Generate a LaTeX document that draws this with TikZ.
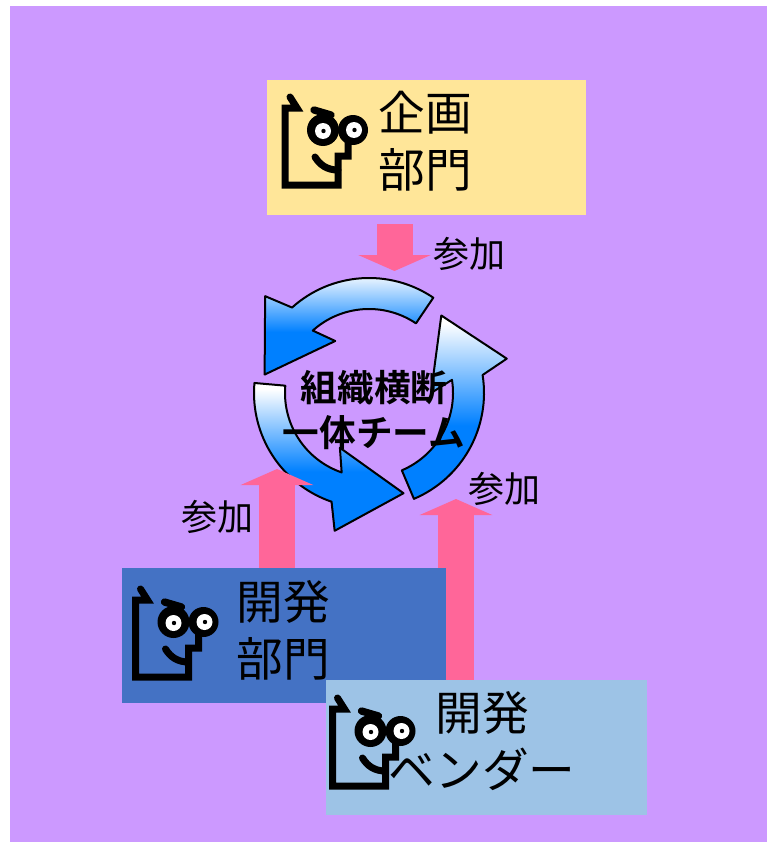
\documentclass[tikz,border=0pt]{standalone}
\usepackage{fontspec}
\usetikzlibrary{arrows.meta}
\newfontfamily\jp{Noto Sans CJK JP}[BoldFont={Noto Sans CJK JP Bold}]

\definecolor{bgpurple}{HTML}{CC99FF}
\definecolor{planyellow}{HTML}{FFE699}
\definecolor{devblue}{HTML}{4472C4}
\definecolor{vendorblue}{HTML}{9DC3E6}
\definecolor{joinpink}{HTML}{FF6699}
\definecolor{cycblue}{HTML}{0080FF}

\pgfdeclareverticalshading{cycshade}{100bp}{color(0bp)=(cycblue); color(45bp)=(cycblue); color(73bp)=(white); color(100bp)=(white)}

\tikzset{
	panel/.style={inner sep=0pt, minimum width=#1},
	panellabel/.style={inner sep=0pt, align=center, font=\jp\fontsize{35pt}{42.75pt}\selectfont},
	joinlabel/.style={inner sep=0pt, font=\jp\fontsize{27pt}{30pt}\selectfont},
	joinarrow/.style={joinpink, line width=27pt, -{Triangle[width=54pt, length=12pt]}},
	facestroke/.style={line width=5.25pt, line cap=round, line join=miter},
	cyclepart/.style={shading=cycshade, draw=black, line width=1.5pt, line join=round}
}

% one curved arrow of the cycle, tail at angle #1
\def\cyclearrow#1{%
	\shadedraw[cyclepart] (#1:84) -- (#1:115)
		arc[start angle=#1, end angle={#1+76}, radius=115]
		-- ({#1+81}:142) -- ({#1+114}:106) -- ({#1+67}:62) -- ({#1+76}:84)
		arc[start angle={#1+76}, end angle=#1, radius=84] -- cycle;}

% the little face, origin at its upper left corner
\def\mascot(#1,#2){%
	\begin{scope}[shift={(#1,#2)}]
		\draw[facestroke] (15,9) -- (22,20) -- (10,20) -- (10,97) -- (63,97) -- (63,68) -- (73,68) -- (73,50);
		\fill (48,42) circle[radius=16];
		\fill (78,42) circle[radius=15];
		\draw[line width=5.5pt, line cap=round] (39,22) -- (56,27);
		\fill[white] (48,43) circle[radius=8];
		\fill[white] (79,42) circle[radius=8];
		\fill (48.5,43) circle[radius=2.2];
		\fill (79.5,42) circle[radius=2.2];
		\draw[facestroke] (40,69) .. controls (45,77) and (52,82) .. (63,82);
	\end{scope}}

\begin{document}
\begin{tikzpicture}[x=0.75pt, y=-0.75pt]
			%%%%% START %%%%%
			\useasboundingbox (0,0) rectangle (767,842);
			\fill[bgpurple] (10,6) rectangle (767,842);
			
			% cycle in the middle
			\begin{scope}[shift={(369,393)}, y=0.75pt]
				\foreach \t in {56,175,293} {\cyclearrow{\t}}
			\end{scope}
			\node[inner sep=0pt, align=center, font=\jp\bfseries\fontsize{27.5pt}{34pt}\selectfont] (team) at (374,410) {組織横断\\一体チーム};
			
			% joining arrows
			\coordinate (planfoot) at (394.5,224);
			\coordinate (cyctop) at (394.5,271);
			\coordinate (devfoot) at (277,600);
			\coordinate (cycleft) at (277,469);
			\coordinate (vendorfoot) at (456,720);
			\coordinate (cycright) at (456,499);
			\draw[joinarrow] (planfoot) -- (cyctop);
			\draw[joinarrow] (devfoot) -- (cycleft);
			\draw[joinarrow] (vendorfoot) -- (cycright);
			\node[joinlabel] (join1) at (469,254) {参加};
			\node[joinlabel] (join2) at (217,517) {参加};
			\node[joinlabel] (join3) at (504,489) {参加};
			
			% departments
			\node[panel=239.25pt, minimum height=101.25pt, fill=planyellow] (plan) at (426.5,147.5) {};
			\node[panel=243pt, minimum height=101.25pt, fill=devblue] (dev) at (284,635.5) {};
			\node[panel=240.75pt, minimum height=101.25pt, fill=vendorblue] (vendor) at (486,747.5) {};
			
			\mascot(275,88)
			\mascot(125.5,580)
			\mascot(322.5,689)
			
			\node[panellabel] (plantext) at (425,141.5) {企画\\部門};
			\node[panellabel] (devtext) at (283,630.5) {開発\\部門};
			\node[panellabel] (vendortext) at (482,741.5) {開発\\ベンダー};
			%%%%% END %%%%%
\end{tikzpicture}
\end{document}
